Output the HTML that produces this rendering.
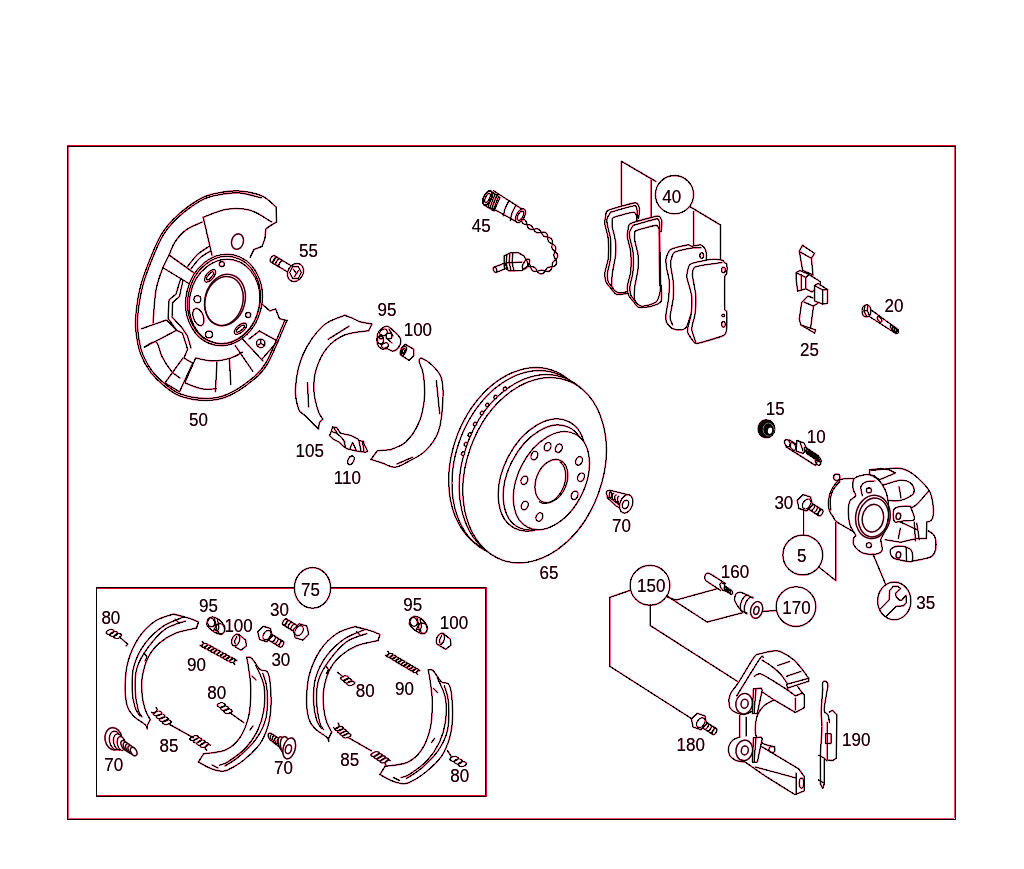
<!DOCTYPE html>
<html><head><meta charset="utf-8"><style>
html,body{margin:0;padding:0;background:#fff;width:1024px;height:869px;overflow:hidden}
svg{display:block}
text{font-family:"Liberation Sans",sans-serif;stroke:none}
.r{color:#e8285a}
.k{color:#000}
</style></head><body>
<svg width="1024" height="869" viewBox="0 0 1024 869">
<defs><g id="art">
<rect x="67" y="145" width="889" height="1" fill="#ee2a5c" stroke="none"/>
<rect x="68" y="147" width="1" height="671" fill="#f98aa6" stroke="none"/>
<rect x="954" y="147" width="1" height="671" fill="#f98aa6" stroke="none"/>
<rect x="68" y="818" width="886" height="1" fill="#f98aa6" stroke="none"/>
<rect x="67" y="146" width="889" height="1" fill="#000" stroke="none"/>
<rect x="67" y="146" width="1" height="674" fill="#000" stroke="none"/>
<rect x="955" y="146" width="1" height="674" fill="#000" stroke="none"/>
<rect x="67" y="819" width="889" height="1" fill="#000" stroke="none"/>
<rect x="97" y="588" width="389" height="1" fill="#ee2a5c" stroke="none"/>
<rect x="486" y="587" width="1" height="210" fill="#ee2a5c" stroke="none"/>
<rect x="97" y="795" width="388" height="1" fill="#ee2a5c" stroke="none"/>
<rect x="96" y="587" width="390" height="1" fill="#000" stroke="none"/>
<rect x="96" y="587" width="1" height="210" fill="#000" stroke="none"/>
<rect x="485" y="587" width="1" height="210" fill="#000" stroke="none"/>
<rect x="96" y="796" width="390" height="1" fill="#000" stroke="none"/>
<ellipse cx="312.5" cy="587.9" rx="18.1" ry="20.3" fill="#fff"/>
<text transform="translate(301.1 596.4) scale(1 1.13)" font-size="17" fill="currentColor" stroke="currentColor" stroke-width="0.25" shape-rendering="auto">75</text>
<path d="M276 207 C273.7 205.2 268.1 198.7 262 196 C255.9 193.3 246.7 191.5 239.4 191 C232.1 190.5 224.5 191.7 218 193 C211.5 194.3 207.2 194.9 200.3 198.8 C193.5 202.6 183.4 209.9 176.9 215.9 C170.4 221.9 165.9 227 161.2 234.7 C156.6 242.4 152.3 253.4 148.9 262 C145.5 270.6 142.8 277.4 140.6 286 C138.4 294.6 136.8 305.9 136 313.6 C135.2 321.3 135.2 325.3 136 332 C136.8 338.7 138.1 347.2 140.6 354 C143.1 360.8 147 367.3 150.8 372.5 C154.7 377.7 158.8 381.5 163.7 385.4 C168.6 389.3 172.9 393.5 180 396 C187.1 398.5 198 400.5 206 400.5 C214 400.5 220.3 399.4 227.9 396.2 C235.5 393 244.7 386.9 251.3 381.5 C257.9 376.1 261.5 374 267.4 364 C273.3 354 283.3 328.6 286.5 321.5"/>
<path d="M261.2 197.8 C257.5 197 246.2 193.4 238.9 192.9 C231.7 192.5 224.3 193.7 217.9 195 C211.5 196.3 207.3 196.9 200.6 200.7 C193.9 204.5 184.1 211.8 177.7 217.7 C171.4 223.7 167 228.7 162.5 236.3 C158 243.8 154 254.7 150.6 263 C147.3 271.4 144.7 278 142.6 286.4 C140.5 294.7 138.8 305.8 138 313.3 C137.2 320.7 137.1 324.6 137.9 331.2 C138.6 337.8 139.8 346.2 142.2 352.8 C144.6 359.4 148.4 365.8 152.1 371 C155.9 376.1 160 379.8 164.7 383.7 C169.5 387.5 173.8 391.6 180.7 394.1 C187.6 396.6 198.3 398.5 206.2 398.5 C214 398.5 220.2 397.4 227.6 394.2 C235 391.1 244.1 385 250.5 379.7 C256.9 374.4 260.4 372.3 266.1 362.5 C271.8 352.7 281.5 327.9 284.6 320.9"/>
<path d="M276 207 L276.6 222 L269.8 226 L265.8 229 L264.9 238.7 L262 246.5 L254 249.4 L250.2 257.3"/>
<path d="M262 304 L269.8 310.9 L275.6 308.9 L279.5 318.7 L287.4 320.6"/>
<path d="M203.2 217.2 C207.1 215.9 218.9 210.5 226.7 209.3 C234.5 208.2 242.7 208.2 250.2 210.3 C257.7 212.4 268.1 220.1 271.7 222"/>
<path d="M203.2 217.2 L212 255.3"/>
<ellipse cx="237.5" cy="241.6" rx="5.9" ry="7.8" transform="rotate(15 237.5 241.6)"/>
<path d="M202.3 222 C199.6 223.3 190.6 226.7 186 230 C181.4 233.3 177.8 237.8 175 242 C172.2 246.2 170.1 252.8 169.1 255"/>
<path d="M162.8 267.6 C161.7 271.3 157.6 280.8 156 290 C154.4 299.2 153.5 317.4 153 322.9"/>
<path d="M144.4 347.1 C146.3 346.2 153.2 340.4 156.1 342 C159 343.6 159.4 351.7 162 356.6 C164.6 361.5 168.5 367.7 171.5 371.3 C174.5 374.9 178.6 376.9 180 378"/>
<path d="M185.4 383 C188.1 384 196.4 387.8 201.5 388.8 C206.6 389.8 213.8 388.8 216.2 388.8"/>
<path d="M196.2 274.5 L169.1 255 L162.8 267.6 L191 284.9"/>
<path d="M141.5 328.8 L166.4 320 L176.6 330.3 L144.4 347.1"/>
<path d="M183 358 L164.9 383 L179.5 391.8 L192 364.7"/>
<path d="M217 361.7 L215.4 391.8"/>
<path d="M229.4 359.5 L230.8 384.5"/>
<path d="M195.7 358 L185.4 381.5"/>
<path d="M235.2 345.6 L252.8 371.3"/>
<path d="M242.5 339 L263 361"/>
<path d="M249.1 339 L259.4 331 L277.7 341.2 L261.6 359.5"/>
<circle cx="260.8" cy="343.4" r="4.2"/>
<path d="M260.8 339.2 L260.8 343.4"/>
<path d="M260.8 343.4 L257.2 345.5"/>
<path d="M260.8 343.4 L264.4 345.5"/>
<path d="M180.6 279.1 L176 294.1 L169.1 299.8 L168 318.3 L176.6 330.3 L182.5 333.2 L187.6 349.3 L184 358 L192.7 363.2"/>
<path d="M183 280.3 L179.5 296.4 L172.6 302.7 L172 317.1 L181.8 327.5 L187.5 336 L191 348"/>
<path d="M195.7 358 C198.6 358.5 207.3 361 213.2 361 C219 361 225.9 359.5 230.8 358 C235.7 356.5 240.6 353.2 242.5 352.2"/>
<path d="M187.5 266.5 C189.1 264.6 193.6 258.3 197 255 C200.4 251.7 206.3 248.2 208.2 246.9"/>
<path d="M191 268.8 C192.5 267 196.7 261 200 258 C203.3 255 208.8 252.2 210.6 251"/>
<ellipse cx="224" cy="300" rx="38" ry="46" transform="rotate(12 224 300)" fill="#fff"/>
<ellipse cx="224" cy="300" rx="36" ry="44" transform="rotate(12 224 300)"/>
<ellipse cx="224.5" cy="301.5" rx="35" ry="42.5" transform="rotate(12 224.5 301.5)"/>
<ellipse cx="225" cy="300" rx="20" ry="26" transform="rotate(15 225 300)"/>
<ellipse cx="224" cy="301" rx="18.8" ry="24.8" transform="rotate(15 224 301)"/>
<circle cx="197.4" cy="299.3" r="3.5"/>
<circle cx="221.8" cy="264.1" r="2.5"/>
<circle cx="248.2" cy="315" r="2.5"/>
<circle cx="209" cy="334.5" r="3.5"/>
<ellipse cx="210.1" cy="275.9" rx="7.5" ry="3.6" transform="rotate(-50 210.1 275.9)"/>
<ellipse cx="210.1" cy="275.9" rx="5" ry="1.8" transform="rotate(-50 210.1 275.9)"/>
<ellipse cx="240.4" cy="328.7" rx="7.5" ry="3.6" transform="rotate(-40 240.4 328.7)"/>
<ellipse cx="240.4" cy="328.7" rx="5" ry="1.8" transform="rotate(-40 240.4 328.7)"/>
<ellipse cx="198.4" cy="317" rx="5" ry="9" transform="rotate(-20 198.4 317)"/>
<text transform="translate(189 426) scale(1 1.13)" font-size="17" fill="currentColor" stroke="currentColor" stroke-width="0.25" shape-rendering="auto">50</text>
<path d="M297.3 269.4 L274.5 255.8 L270.9 262 L293.7 275.6 Z" fill="#fff"/>
<ellipse cx="272.7" cy="258.9" rx="2" ry="3.6" transform="rotate(-149.2 272.7 258.9)" fill="#fff"/>
<path d="M277.4 257.5 A2 3.6 -149.2 0 0 273.7 263.7" transform=""/>
<path d="M280.2 259.2 A2 3.6 -149.2 0 0 276.5 265.4" transform=""/>
<path d="M283 260.9 A2 3.6 -149.2 0 0 279.4 267.1" transform=""/>
<ellipse cx="295.5" cy="272.5" rx="7.6" ry="9.5" transform="rotate(-149.2 295.5 272.5)" fill="#fff"/>
<path d="M301.4 272.5 L298.4 278.4 L292.6 278.4 L289.6 272.5 L292.6 266.6 L298.4 266.6 Z"/>
<path d="M293.5 269.5 L296.5 273.5 L298.5 270.5"/>
<path d="M296.5 273.5 L294.5 276.5"/>
<text transform="translate(299 257.2) scale(1 1.13)" font-size="17" fill="currentColor" stroke="currentColor" stroke-width="0.25" shape-rendering="auto">55</text>
<path d="M344.6 315.3 C341 317.1 329.7 319.4 322.8 326 C315.9 332.6 307.6 344.4 303 354.6 C298.4 364.8 296.2 378.3 295.5 387.4 C294.8 396.5 297.1 404.6 298.7 409.3 C300.3 414 302.8 413.2 305.3 415.8 C307.9 418.4 311.8 422.4 314 424.6 C316.2 426.8 317.7 428.3 318.4 429"/>
<path d="M344.6 315.3 L353.4 318.6 L360 321.9 L372 324 L368.7 330.6"/>
<path d="M368.7 330.6 C364.7 331.3 351.6 332.1 344.6 335 C337.7 337.9 331.8 342.2 327 348 C322.2 353.8 318.2 362.7 316 370 C313.8 377.3 313.6 384.9 314 391.8 C314.4 398.7 316.9 407 318.4 411.5 C319.9 416 322.1 417.8 322.8 419"/>
<path d="M322.8 419 L319.5 422.4 L318.4 429"/>
<path d="M328.2 339.3 L349 326.2"/>
<path d="M307.5 383 L308.6 407"/>
<path d="M421 358 C422.5 358.9 426.7 360.3 430 363.4 C433.3 366.5 438.6 370.7 440.8 376.5 C443 382.3 443.4 388.9 443 398 C442.6 407.1 441.5 422.2 438.6 431 C435.7 439.8 430.6 445.7 425.5 450.8 C420.4 455.9 413.1 459 408 461.7 C402.9 464.4 399.4 467 395 467.2 C390.6 467.4 384 463.5 381.8 462.8"/>
<path d="M381.8 462.8 L370.9 459.5 L377.4 450.8 L390.5 449.7"/>
<path d="M390.5 449.7 C393.1 448.4 401.1 446.6 405.8 442 C410.6 437.4 415.9 429.7 419 422.4 C422.1 415.1 423.7 406.3 424.4 398.3 C425.1 390.3 424.2 380.5 423.3 374.3 C422.4 368.1 419.4 363.9 419 361.2 C418.6 358.5 420.7 358.5 421 358"/>
<path d="M436.4 380.9 L439.7 413.6"/>
<path d="M397 464 L412.4 457.3"/>
<path d="M377.5 334.4 C378.1 331.9 379.4 330.4 381 329 C382.6 327.6 385.1 325.9 387.3 326.3 C389.5 326.7 392 329.4 394.2 331.5 C396.4 333.6 399.7 336.4 400.5 339 C401.3 341.6 400.1 345 398.8 347 C397.6 349 394.9 350.8 393 351.1 C391.1 351.4 389.2 349.2 387.3 348.8 C385.4 348.4 383.1 349.6 381.5 348.8 C379.9 348 378.2 346.6 377.5 344.2 C376.8 341.8 376.9 336.9 377.5 334.4 Z" fill="#fff"/>
<ellipse cx="383.5" cy="332.5" rx="4" ry="3.2" transform="rotate(-30 383.5 332.5)"/>
<ellipse cx="380.5" cy="340" rx="3" ry="4"/>
<ellipse cx="385" cy="345.5" rx="3.5" ry="2.5" transform="rotate(-20 385 345.5)"/>
<ellipse cx="389" cy="336" rx="3" ry="3"/>
<path d="M386 338 L392 343"/>
<path d="M389 329 L393 336"/>
<ellipse cx="381" cy="337" rx="1.5" ry="2.2"/>
<path d="M401 348.8 L405.1 344.2 L413.7 349.3 L413.7 355.7 L409.1 360.3 L401 355.1 Z" fill="#fff"/>
<ellipse cx="403.4" cy="350.9" rx="2.6" ry="4.8" transform="rotate(25 403.4 350.9)"/>
<ellipse cx="403.6" cy="350.9" rx="1.2" ry="2.6" transform="rotate(25 403.6 350.9)"/>
<path d="M332.5 426.9 L336.5 427.5 L340.5 433.2 L350.9 435.5 L357.8 439 L359 440.7 L363.5 441.3 L364.1 444.2 L367.6 451.1 L365.3 452.2 L357.2 451.1 L346.9 448.8 L342.3 445.3 L339.4 442.4 L333.1 439 L329.6 435.5 L331.3 431.5 Z"/>
<path d="M331.3 431.5 L336.5 433.2 L341 437 L345 442"/>
<path d="M334 428 L337 433"/>
<path d="M344 441 L345.5 447.5"/>
<path d="M350 448.5 L352.5 442.5 L356 449.5"/>
<path d="M359 441 L361 451"/>
<path d="M362.5 441.5 L364 451.5"/>
<ellipse cx="350.9" cy="460.3" rx="2.8" ry="4.6" transform="rotate(25 350.9 460.3)"/>
<text transform="translate(377.5 316.3) scale(1 1.13)" font-size="17" fill="currentColor" stroke="currentColor" stroke-width="0.25" shape-rendering="auto">95</text>
<text transform="translate(403.7 336) scale(1 1.13)" font-size="17" fill="currentColor" stroke="currentColor" stroke-width="0.25" shape-rendering="auto">100</text>
<text transform="translate(295.6 457.2) scale(1 1.13)" font-size="17" fill="currentColor" stroke="currentColor" stroke-width="0.25" shape-rendering="auto">105</text>
<text transform="translate(333.8 483.5) scale(1 1.13)" font-size="17" fill="currentColor" stroke="currentColor" stroke-width="0.25" shape-rendering="auto">110</text>
<text transform="translate(471.7 231.7) scale(1 1.13)" font-size="17" fill="currentColor" stroke="currentColor" stroke-width="0.25" shape-rendering="auto">45</text>
<path d="M493.8 190.9 L524.9 211"/>
<path d="M486.9 205.3 L518 222.6"/>
<path d="M490 190.5 L500 197.5 L494 211 L484 205 Z" fill="#fff"/>
<path d="M489.5 191 L484.5 204.5"/>
<path d="M491.3 192.1 L486.3 205.6"/>
<path d="M493.1 193.2 L488.1 206.7"/>
<path d="M494.9 194.3 L489.9 207.8"/>
<path d="M496.7 195.4 L491.7 208.9"/>
<path d="M498.5 196.5 L493.5 210"/>
<ellipse cx="487.5" cy="198" rx="3.8" ry="7.8" transform="rotate(25 487.5 198)" fill="#fff" stroke-width="1.6"/>
<ellipse cx="487.5" cy="198" rx="2" ry="5" transform="rotate(25 487.5 198)"/>
<path d="M497.5 195 C496.8 196.3 494.4 200.5 493.5 203 C492.6 205.5 492.2 208.8 492 210"/>
<path d="M509 200.8 C508.3 202.1 505.9 206.3 505 208.8 C504.1 211.3 503.8 214.6 503.5 215.8"/>
<path d="M515.9 205.4 C515.2 206.7 512.8 210.9 511.9 213.4 C511 215.9 510.6 219.2 510.4 220.4"/>
<ellipse cx="520.5" cy="215.7" rx="4" ry="7.5" transform="rotate(30 520.5 215.7)" fill="#fff"/>
<ellipse cx="520.5" cy="215.7" rx="2.5" ry="5" transform="rotate(30 520.5 215.7)"/>
<path d="M521 219 L521.1 219.6 L521.3 220.3 L521.5 221.1 L521.8 221.9 L522.3 222.7 L522.9 223.3 L523.7 223.9 L524.8 224.2 L526 224.4 L527.2 224.6 L528.5 224.7 L529.6 224.9 L530.6 225.2 L531.4 225.7 L532 226.4 L532.5 227.2 L533 228 L533.4 229 L533.9 229.9 L534.5 230.8 L535.2 231.6 L536 232.2 L536.8 232.6 L537.7 232.8 L538.6 232.8 L539.6 232.7 L540.6 232.4 L541.6 232.2 L542.7 232 L543.7 232 L544.7 232.2 L545.5 232.6 L546.2 233.2 L546.8 233.9 L547.2 234.7 L547.5 235.7 L547.6 236.7 L547.7 237.7 L547.8 238.7 L547.9 239.6 L548.1 240.4 L548.5 241.2 L548.9 241.8 L549.5 242.3 L550.2 242.8 L551.1 243.3 L552 243.7 L552.9 244.2 L553.8 244.8 L554.6 245.4 L555.2 246.2 L555.7 247.1 L555.8 248.1 L555.8 249.1 L555.5 250.2 L555.1 251.3 L554.7 252.4 L554.3 253.4 L554 254.4 L553.9 255.2 L553.9 256 L554.2 256.8 L554.5 257.5 L554.9 258.2 L555.3 258.9 L555.7 259.6 L556.1 260.4 L556.4 261.2 L556.5 262 L556.6 262.8 L556.5 263.5 L556.2 264.2 L555.8 264.9 L555.3 265.4 L554.7 265.9 L554 266.2 L553.2 266.5 L552.4 266.7 L551.6 266.8 L550.8 266.9 L550.1 266.9 L549.3 267.1 L548.6 267.2 L547.9 267.5 L547.3 268 L546.7 268.6 L546.2 269.3 L545.7 270.1 L545.2 271 L544.6 271.8 L543.9 272.6 L543.2 273.3 L542.3 273.7 L541.4 273.9 L540.5 273.9 L539.6 273.6 L538.8 273.1 L538 272.4 L537.4 271.5 L536.9 270.5 L536.4 269.5 L535.8 268.6 L535.2 267.9 L534.4 267.3 L533.5 267 L532.5 266.8 L531.4 266.7 L530.3 266.7 L529.4 266.6 L528.5 266.6 L527.9 266.5 L527.4 266.5"/>
<path d="M521 219 L521.6 219.1 L522.4 219.2 L523.2 219.3 L524 219.6 L524.8 220 L525.5 220.6 L526 221.4 L526.5 222.4 L526.8 223.5 L527.1 224.8 L527.4 226 L527.8 227.1 L528.4 228.1 L529.2 228.8 L530.1 229.2 L531.1 229.4 L532.1 229.5 L533.2 229.4 L534.3 229.2 L535.3 229 L536.3 228.8 L537.2 228.8 L538.1 229 L538.9 229.5 L539.6 230.1 L540.3 230.8 L540.9 231.7 L541.4 232.6 L541.9 233.5 L542.4 234.3 L542.8 235 L543.3 235.6 L543.8 236.1 L544.5 236.4 L545.3 236.7 L546.2 236.9 L547.2 237.1 L548.2 237.3 L549.2 237.5 L550.1 237.9 L550.9 238.4 L551.6 239 L552 239.8 L552.3 240.6 L552.4 241.5 L552.4 242.5 L552.3 243.6 L552.1 244.6 L552 245.6 L551.8 246.6 L551.9 247.5 L552.1 248.4 L552.5 249.2 L553.2 249.9 L554 250.7 L554.9 251.4 L555.8 252.2 L556.5 253 L557.2 253.8 L557.6 254.7 L557.7 255.7 L557.6 256.6 L557.3 257.4 L556.9 258.2 L556.4 259 L555.8 259.6 L555.2 260.2 L554.6 260.7 L554 261.2 L553.6 261.6 L553.2 262 L552.8 262.5 L552.6 263 L552.4 263.6 L552.3 264.2 L552.3 264.8 L552.2 265.6 L552.1 266.3 L551.9 267.1 L551.8 267.9 L551.5 268.7 L551.1 269.5 L550.6 270.2 L549.9 270.7 L549.1 271.2 L548.2 271.4 L547.3 271.4 L546.2 271.3 L545.2 271.1 L544.2 270.8 L543.3 270.5 L542.5 270.3 L541.8 270.1 L541.1 270.1 L540.5 270.2 L540 270.4 L539.4 270.6 L538.5 270.9 L537.6 271.1 L536.4 271.3 L535.3 271.4 L534.1 271.3 L533.1 271 L532.3 270.4 L531.6 269.6 L531.1 268.6 L530.7 267.6 L530.4 266.5 L530.1 265.6 L529.8 264.8 L529.5 264.2 L529.2 263.7"/>
<path d="M504 256 L510 253 L518 252.5 L524 256 L527.5 262 L528 266 L522 270.5 L509 271 L504 267 Z" fill="#fff"/>
<path d="M507 255 L506 263 L508 270"/>
<path d="M510 254 L509 262 L511 270.5"/>
<path d="M513 253 L512 262 L514 271"/>
<path d="M506 263 L522 262"/>
<ellipse cx="526" cy="264" rx="2.5" ry="5.5" transform="rotate(30 526 264)"/>
<path d="M494.5 267 L505 263 L507 268 L496.5 272.3"/>
<ellipse cx="495" cy="269.7" rx="1.6" ry="2.7" transform="rotate(-20 495 269.7)" fill="#fff"/>
<circle cx="674.5" cy="194.7" r="19.1" fill="#fff"/>
<text transform="translate(662.3 202.8) scale(1 1.13)" font-size="17" fill="currentColor" stroke="currentColor" stroke-width="0.25" shape-rendering="auto">40</text>
<path d="M621.4 205.2 L621.4 161.3 L656 181.5"/>
<path d="M651 219.4 L651 180"/>
<path d="M690.5 207 L720.5 225 L720.5 260"/>
<path d="M693.6 211.5 L693.6 247.6"/>
<path d="M608.2 210.2 C611.1 208.9 631.6 203.2 634.7 202.9 C637.8 202.6 638.9 206.1 639.3 207.6 C639.7 209.1 638.9 216.8 638.6 218.1 C638.3 219.4 636.8 215.6 636.7 220.8 C636.6 226 637 265.1 637.2 270.2 C637.4 275.3 638.6 270.4 638.7 272.2 C638.8 274 639.6 286.1 638.6 288.2 C637.6 290.3 630.4 292.6 628.2 293.2 C626 293.8 617.9 294.7 616.2 294.2 C614.5 293.7 611.8 289.4 610.8 288.2 C609.8 287 606.8 283.8 606.2 282.3 C605.6 280.8 604.7 275.4 604.9 273 C605.1 270.6 607.9 261.9 608.2 258.5 C608.5 255.1 608.5 242.1 608.2 238.7 C607.9 235.3 605.2 226.3 604.9 224.1 C604.6 221.8 605.3 217.6 605.6 216.2 C605.9 214.8 605.3 211.5 608.2 210.2 Z" fill="#fff"/>
<path d="M610.7 212.2 C613.1 211.5 632.1 205.7 634.7 205.7 C637.4 205.7 637 210.7 637.2 212.2 C637.4 213.7 636.8 219.9 636.7 220.8"/>
<path d="M610.7 212.2 C610.4 212.8 607.6 217 607.2 218.2 C606.9 219.4 606.9 222.1 607.2 224.2 C607.5 226.2 610.2 235.3 610.5 238.7 C610.8 242.1 610.8 255.1 610.5 258.5 C610.2 261.9 607.7 270.6 607.5 273 C607.3 275.4 607.8 280.7 608.4 282.2 C609 283.7 612.7 287.6 613.2 288.2"/>
<path d="M613.5 217.5 C615.6 216.6 631 212.3 633.3 212.2 C635.6 212.1 636.2 214.6 636.6 216.2 C637 217.8 637.2 222.3 637.3 228.1 C637.4 233.9 638.3 268.4 638 274.4 C637.7 280.3 635.5 286 634.6 287.6 C633.7 289.2 631 290.4 629.4 290.9 C627.8 291.4 620.5 293.2 618.8 292.9 C617.1 292.6 612.9 289.5 612.2 287.6 C611.5 285.8 611.9 277.6 612.2 274.4 C612.5 271.2 615.2 259.1 615.5 255.8 C615.8 252.5 615.8 244.2 615.5 241.3 C615.2 238.4 612.5 228.8 612.2 226.8 C611.9 224.8 612.1 222.4 612.2 221.5 C612.3 220.6 611.4 218.4 613.5 217.5 Z"/>
<path d="M630.7 223.4 C633.6 222.1 654.1 216.4 657.2 216.1 C660.3 215.8 661.4 219.3 661.8 220.8 C662.2 222.3 661.4 230 661.1 231.3 C660.8 232.6 659.3 228.8 659.2 234 C659.1 239.2 659.5 278.3 659.7 283.4 C659.9 288.5 661.1 283.6 661.2 285.4 C661.3 287.2 662.1 299.3 661.1 301.4 C660.1 303.5 652.9 305.8 650.7 306.4 C648.5 307 640.4 307.9 638.7 307.4 C637 306.9 634.3 302.6 633.3 301.4 C632.3 300.2 629.3 297 628.7 295.5 C628.1 294 627.2 288.6 627.4 286.2 C627.6 283.8 630.4 275.1 630.7 271.7 C631 268.3 631 255.3 630.7 251.9 C630.4 248.5 627.7 239.6 627.4 237.3 C627.1 235.1 627.8 230.8 628.1 229.4 C628.4 228 627.8 224.7 630.7 223.4 Z" fill="#fff"/>
<path d="M633.2 225.4 C635.6 224.8 654.6 218.9 657.2 218.9 C659.9 218.9 659.5 223.9 659.7 225.4 C659.9 226.9 659.2 233.1 659.2 234"/>
<path d="M633.2 225.4 C632.9 226 630.1 230.2 629.7 231.4 C629.4 232.6 629.4 235.3 629.7 237.4 C630 239.5 632.7 248.5 633 251.9 C633.3 255.3 633.3 268.3 633 271.7 C632.7 275.1 630.2 283.8 630 286.2 C629.8 288.6 630.3 293.9 630.9 295.4 C631.5 296.9 635.2 300.8 635.7 301.4"/>
<path d="M636 230.7 C638.1 229.8 653.5 225.5 655.8 225.4 C658.1 225.3 658.7 227.8 659.1 229.4 C659.5 231 659.7 235.5 659.8 241.3 C659.9 247.1 660.8 281.7 660.5 287.6 C660.2 293.6 658 299.2 657.1 300.8 C656.2 302.4 653.5 303.6 651.9 304.1 C650.3 304.6 643 306.4 641.3 306.1 C639.6 305.8 635.4 302.7 634.7 300.8 C634 298.9 634.4 290.8 634.7 287.6 C635 284.4 637.7 272.3 638 269 C638.3 265.7 638.3 257.4 638 254.5 C637.7 251.6 635 242 634.7 240 C634.4 238 634.6 235.6 634.7 234.7 C634.8 233.8 633.9 231.6 636 230.7 Z"/>
<path d="M705.6 262 C707.5 254.4 706.1 251.9 705.6 250.2 C705.1 248.5 702.4 245.3 701 244.9 C699.6 244.5 693 246.2 691.7 246.2 C690.4 246.2 689.9 244.6 687.8 244.9 C685.7 245.2 672.8 248.1 670.6 249.5 C668.4 250.9 666.4 256.9 666 258.8 C665.6 260.7 666.3 265.8 666.6 268 C666.9 270.2 669.1 278.2 669.3 281.3 C669.5 284.4 668.9 295.2 668.6 298.5 C668.3 301.8 666.2 311.9 666 314.3 C665.8 316.7 665.9 320.8 666.6 322.3 C667.3 323.8 671.2 328.5 673.2 328.9 C675.2 329.3 683.8 332.7 687 326 C690.2 319.3 703.7 269.6 705.6 262 Z" fill="#fff"/>
<path d="M701 247.6 C699.9 247.7 693 247.7 690.4 248.2 C687.8 248.7 676.4 251 674.5 252.2 C672.6 253.4 671.4 258.4 671 260 C670.6 261.6 670.8 265.9 671 268 C671.2 270.1 673 278.2 673.2 281.3 C673.4 284.4 673.5 294.9 673.2 298.5 C672.9 302.1 670.1 314.4 670 317 C669.9 319.6 672.3 324.1 672.6 324.9"/>
<ellipse cx="701.7" cy="255.5" rx="1.8" ry="2.8"/>
<path d="M690.4 264.1 C692.7 262.7 707 259.9 710.2 259.5 C713.4 259.1 720.6 259.8 722.1 260.1 C723.6 260.4 724.3 262.4 724.8 262.8 C725.3 263.2 726.6 263.1 726.8 264.1 C727 265.2 727 272 726.8 273.3 C726.6 274.6 725 273.7 724.8 277.3 C724.6 280.9 724.6 305.6 724.8 309 C725 312.4 726.6 309.8 726.8 311.7 C727 313.6 727.1 325.2 726.8 327.6 C726.5 330 726.5 333.9 723.5 335.5 C720.5 337.1 700 342.9 697 343.4 C694 343.9 693.9 341.9 693 340.8 C692.1 339.8 688.3 334.2 687.8 332.9 C687.3 331.6 687.5 329.5 687.8 327.6 C688.1 325.7 690.7 317.5 691.1 314.3 C691.5 311.1 692.1 299.4 691.7 295.8 C691.3 292.2 687.6 280.9 687.1 278.6 C686.6 276.4 686.8 274.8 687.1 273.3 C687.4 271.9 688.1 265.5 690.4 264.1 Z" fill="#fff"/>
<path d="M722 262.5 C719.4 262.9 698.7 265.5 695.7 266.7 C692.7 267.9 692.4 271.9 692.4 274.7 C692.4 277.5 695.4 290.5 695.7 294.5 C696 298.5 695.4 310.9 695 314.3 C694.6 317.7 691.6 326.1 691.7 328.9 C691.8 331.7 695.3 340.8 695.7 342.1"/>
<ellipse cx="723.5" cy="270" rx="1.8" ry="2.8"/>
<ellipse cx="723.5" cy="324.3" rx="1.8" ry="2.8"/>
<circle cx="723.2" cy="315.5" r="1.3"/>
<text transform="translate(800 356.3) scale(1 1.13)" font-size="17" fill="currentColor" stroke="currentColor" stroke-width="0.25" shape-rendering="auto">25</text>
<path d="M802.6 245.3 L814.6 253.4 L811.4 258.2 L813 275.1"/>
<path d="M802.6 245.3 L799.3 251 L802.6 270.3 L813 275.1"/>
<path d="M800 252 L811.4 258.2"/>
<path d="M796 272.7 L805.8 277.5 L805.8 288.8 L797.7 291.2 L796 278.3 Z" fill="#fff"/>
<path d="M796 272.7 L800 270.5 L809 274.5 L805.8 277.5"/>
<path d="M809 274.5 L820.3 281.6 L820.3 287"/>
<path d="M814.6 285.6 L818 283.5 L827.5 289.6 L827.5 303.3 L822.7 304.1 L814.6 300.9 Z" fill="#fff"/>
<path d="M814.6 285.6 L822.7 290 L827.5 289.6"/>
<path d="M822.7 290 L822.7 304.1"/>
<path d="M801.3 274.5 L801.3 289.5"/>
<path d="M805.8 288.8 L812 292 L814.6 290"/>
<path d="M813 298 L808 296 L801.7 302.5 L799.3 319.4 L801 325 L814.6 333.1 L815.6 330 L810.6 328.3 L813.5 306 L817.9 303.3"/>
<path d="M801 325 L810.6 328.3"/>
<path d="M804 302 L813 306"/>
<text transform="translate(884.5 312.4) scale(1 1.13)" font-size="17" fill="currentColor" stroke="currentColor" stroke-width="0.25" shape-rendering="auto">20</text>
<path d="M870.7 309.6 L898.2 329.7 L896 333.7 L868 315.7 Z" fill="#fff"/>
<ellipse cx="879.6" cy="319.3" rx="1.6" ry="3.2" transform="rotate(-35 879.6 319.3)"/>
<ellipse cx="892.5" cy="327.8" rx="1.5" ry="2.9" transform="rotate(-35 892.5 327.8)"/>
<ellipse cx="894.4" cy="329.2" rx="1.5" ry="2.9" transform="rotate(-35 894.4 329.2)"/>
<ellipse cx="896.3" cy="330.6" rx="1.5" ry="2.9" transform="rotate(-35 896.3 330.6)"/>
<path d="M862.5 308 C862.9 306.8 863.6 306 864.5 305.5 C865.4 305 867 304.7 868 305.2 C869 305.7 870.3 307 870.7 308.5 C871.1 310 871 312.6 870.5 314 C870 315.4 869 316.2 868 316.6 C867 317 865.2 317 864.2 316.4 C863.2 315.8 862.5 314.4 862.2 313 C861.9 311.6 862.1 309.2 862.5 308 Z" fill="#fff"/>
<path d="M865 306 L863.8 311 L866.5 316"/>
<path d="M868 305.5 L867.2 310.5 L869.5 315.5"/>
<path d="M863.8 311 L867.2 310.5"/>
<text transform="translate(539.5 579) scale(1 1.13)" font-size="17" fill="currentColor" stroke="currentColor" stroke-width="0.25" shape-rendering="auto">65</text>
<path d="M493.4 551.7 L489.2 550.5 L485.2 549 L481.2 547.1 L477.5 544.8 L473.9 542.2 L470.5 539.3 L467.3 536 L464.3 532.4 L461.6 528.6 L459.1 524.4 L456.9 520 L454.9 515.4 L453.1 510.5 L451.7 505.4 L450.5 500.1 L449.6 494.7 L449.1 489.1 L448.8 483.4 L448.8 477.7 L449 471.8 L449.6 465.9 L450.5 460 L451.7 454 L453.1 448.1 L454.8 442.3 L456.8 436.5 L459 430.8 L461.5 425.3 L464.3 419.8 L467.2 414.6 L470.4 409.5 L473.8 404.7 L477.4 400 L481.1 395.7 L485 391.5 L489.1 387.7 L493.3 384.2 L497.6 380.9 L502 378 L506.4 375.5 L511 373.2 L515.5 371.4 L520.1 369.9 L524.7 368.7 L529.3 368 L533.8 367.6 L538.3 367.6 L542.7 368 L547 368.7 L551.2 369.9 L555.3 371.4 L559.2 373.2 L563 375.5 L566.6 378 L570 380.9 L573.2 384.2 L576.2 387.7 L579 391.6 L581.5 395.7 L583.8 400.1"/>
<path d="M491 553 L487.2 551.4 L483.5 549.5 L479.9 547.3 L476.5 544.7 L473.3 541.9 L470.3 538.7 L467.5 535.3 L464.9 531.6 L462.5 527.6 L460.3 523.4 L458.4 519 L456.7 514.4 L455.2 509.6 L454.1 504.6 L453.1 499.5 L452.5 494.2 L452.1 488.8 L452 483.3 L452.1 477.7 L452.5 472.1 L453.2 466.5 L454.1 460.8 L455.3 455.2 L456.8 449.5 L458.5 444 L460.4 438.5 L462.6 433.1 L465 427.8 L467.6 422.6 L470.5 417.6 L473.5 412.8 L476.7 408.1 L480.1 403.7 L483.7 399.4 L487.4 395.4 L491.2 391.7 L495.2 388.2 L499.3 385.1 L503.4 382.2 L507.7 379.6 L512 377.3 L516.3 375.3 L520.7 373.7 L525 372.4 L529.4 371.5 L533.8 370.8 L538.1 370.6 L542.3 370.6 L546.5 371.1 L550.6 371.8 L554.6 372.9 L558.5 374.4 L562.3 376.1 L565.9 378.2 L569.3 380.7 L572.6 383.4 L575.7 386.4 L578.6 389.7 L581.4 393.3 L583.8 397.1"/>
<ellipse cx="531" cy="467.2" rx="67.9" ry="95.5" transform="rotate(20 531 467.2)" fill="#fff"/>
<ellipse cx="534.6" cy="470.2" rx="67.9" ry="95.5" transform="rotate(20 534.6 470.2)" fill="#fff"/>
<ellipse cx="463" cy="453.6" rx="1.5" ry="1.9" transform="rotate(30 463 453.6)" fill="#fff"/>
<ellipse cx="465.7" cy="444.2" rx="1.5" ry="1.9" transform="rotate(30 465.7 444.2)" fill="#fff"/>
<ellipse cx="469.7" cy="434.7" rx="1.5" ry="1.9" transform="rotate(30 469.7 434.7)" fill="#fff"/>
<ellipse cx="475" cy="424" rx="1.5" ry="1.9" transform="rotate(30 475 424)" fill="#fff"/>
<ellipse cx="481.9" cy="413" rx="1.5" ry="1.9" transform="rotate(30 481.9 413)" fill="#fff"/>
<ellipse cx="487.3" cy="405" rx="1.5" ry="1.9" transform="rotate(30 487.3 405)" fill="#fff"/>
<ellipse cx="495.4" cy="397" rx="1.5" ry="1.9" transform="rotate(30 495.4 397)" fill="#fff"/>
<ellipse cx="504.9" cy="388.8" rx="1.5" ry="1.9" transform="rotate(30 504.9 388.8)" fill="#fff"/>
<ellipse cx="541.8" cy="475" rx="38.2" ry="59.8" transform="rotate(27 541.8 475)" fill="#fff"/>
<ellipse cx="544" cy="477.5" rx="35.8" ry="56" transform="rotate(27 544 477.5)"/>
<ellipse cx="551.4" cy="480.7" rx="33.4" ry="52.3" transform="rotate(27 551.4 480.7)" fill="#fff"/>
<ellipse cx="551.4" cy="481.1" rx="15.2" ry="22.6" transform="rotate(22 551.4 481.1)"/>
<path d="M560.1 462 L560.7 462.4 L561.3 463 L561.8 463.6 L562.4 464.2 L562.9 464.9 L563.3 465.6 L563.7 466.4 L564.1 467.2 L564.5 468.1 L564.8 469 L565 469.9 L565.3 470.8 L565.4 471.8 L565.6 472.8 L565.7 473.8 L565.7 474.8 L565.7 475.9 L565.7 477 L565.6 478.1 L565.5 479.2 L565.4 480.3 L565.2 481.4 L564.9 482.5 L564.6 483.6 L564.3 484.7 L564 485.8 L563.6 486.8 L563.1 487.9 L562.7 489 L562.2 490 L561.6 491 L561.1 492 L560.5 492.9 L559.8 493.9 L559.2 494.8 L558.5 495.6 L557.8 496.4 L557.1 497.2 L556.3 498 L555.5 498.7 L554.8 499.3 L554 500 L553.2 500.5 L552.3 501 L551.5 501.5 L550.7 501.9 L549.9 502.3 L549 502.6 L548.2 502.8 L547.3 503 L546.5 503.2 L545.7 503.3 L544.9 503.3 L544.1 503.3 L543.3 503.2 L542.5 503.1 L541.8 502.9 L541 502.6 L540.3 502.3 L539.6 502"/>
<ellipse cx="547.6" cy="446.7" rx="3.2" ry="4.4" transform="rotate(25 547.6 446.7)"/>
<ellipse cx="558.8" cy="448.2" rx="3.2" ry="4.4" transform="rotate(25 558.8 448.2)"/>
<ellipse cx="579" cy="460.9" rx="3.2" ry="4.4" transform="rotate(25 579 460.9)"/>
<ellipse cx="581" cy="477.3" rx="3.2" ry="4.4" transform="rotate(25 581 477.3)"/>
<ellipse cx="574.6" cy="495.3" rx="3.2" ry="4.4" transform="rotate(25 574.6 495.3)"/>
<ellipse cx="539.4" cy="517" rx="3.2" ry="4.4" transform="rotate(25 539.4 517)"/>
<ellipse cx="524.7" cy="505.5" rx="3.2" ry="4.4" transform="rotate(25 524.7 505.5)"/>
<ellipse cx="524.4" cy="480.3" rx="3.2" ry="4.4" transform="rotate(25 524.4 480.3)"/>
<ellipse cx="534.4" cy="455.6" rx="3.2" ry="4.4" transform="rotate(25 534.4 455.6)"/>
<text transform="translate(612 531.7) scale(1 1.13)" font-size="17" fill="currentColor" stroke="currentColor" stroke-width="0.25" shape-rendering="auto">70</text>
<path d="M609.6 490.3 L626.2 494.2 L620 508 L616 505.9 L607.2 497.6 Z" fill="#fff"/>
<ellipse cx="609.2" cy="494.2" rx="2.5" ry="3.8" transform="rotate(-20 609.2 494.2)" fill="#fff"/>
<path d="M614.5 499.6 L614.3 499.7 L614.2 499.7 L614.1 499.8 L613.9 499.9 L613.8 499.9 L613.6 499.9 L613.5 500 L613.3 500 L613.2 500 L613 499.9 L612.8 499.9 L612.7 499.8 L612.5 499.8 L612.3 499.7 L612.1 499.6 L612 499.5 L611.8 499.4 L611.6 499.3 L611.5 499.2 L611.3 499 L611.1 498.9 L611 498.7 L610.8 498.5 L610.7 498.3 L610.6 498.1 L610.4 497.9 L610.3 497.7 L610.2 497.5 L610.1 497.3 L609.9 497.1 L609.8 496.9 L609.8 496.6 L609.7 496.4 L609.6 496.2 L609.5 496 L609.5 495.7 L609.4 495.5 L609.4 495.3 L609.4 495 L609.4 494.8 L609.3 494.6 L609.4 494.4 L609.4 494.2 L609.4 494 L609.4 493.8 L609.5 493.6 L609.5 493.4 L609.6 493.3 L609.7 493.1 L609.7 492.9 L609.8 492.8 L609.9 492.7 L610 492.5 L610.1 492.4 L610.3 492.3 L610.4 492.3 L610.5 492.2 L610.7 492.1 L610.8 492.1 L611 492.1"/>
<path d="M617.6 502.1 L617.5 502.2 L617.4 502.3 L617.2 502.4 L617.1 502.4 L616.9 502.4 L616.8 502.5 L616.6 502.5 L616.5 502.5 L616.3 502.5 L616.1 502.4 L616 502.4 L615.8 502.3 L615.6 502.2 L615.4 502.1 L615.2 502 L615.1 501.9 L614.9 501.8 L614.7 501.6 L614.5 501.5 L614.3 501.3 L614.2 501.1 L614 500.9 L613.8 500.7 L613.7 500.5 L613.5 500.3 L613.4 500.1 L613.2 499.8 L613.1 499.6 L613 499.3 L612.8 499.1 L612.7 498.8 L612.6 498.6 L612.5 498.3 L612.4 498.1 L612.4 497.8 L612.3 497.5 L612.2 497.3 L612.2 497 L612.1 496.8 L612.1 496.5 L612.1 496.3 L612.1 496 L612.1 495.8 L612.1 495.6 L612.1 495.4 L612.2 495.2 L612.2 495 L612.3 494.8 L612.3 494.6 L612.4 494.4 L612.5 494.3 L612.6 494.1 L612.7 494 L612.8 493.9 L612.9 493.8 L613 493.7 L613.2 493.6 L613.3 493.6 L613.5 493.6 L613.6 493.5"/>
<path d="M620.8 504.6 L620.6 504.7 L620.5 504.8 L620.4 504.9 L620.2 504.9 L620.1 505 L619.9 505 L619.8 505 L619.6 505 L619.4 505 L619.3 504.9 L619.1 504.9 L618.9 504.8 L618.7 504.7 L618.5 504.6 L618.3 504.5 L618.1 504.3 L618 504.2 L617.8 504 L617.6 503.8 L617.4 503.6 L617.2 503.4 L617 503.2 L616.8 502.9 L616.7 502.7 L616.5 502.5 L616.3 502.2 L616.2 501.9 L616 501.7 L615.9 501.4 L615.7 501.1 L615.6 500.8 L615.5 500.5 L615.4 500.2 L615.3 499.9 L615.2 499.6 L615.1 499.4 L615 499.1 L615 498.8 L614.9 498.5 L614.9 498.2 L614.8 498 L614.8 497.7 L614.8 497.4 L614.8 497.2 L614.8 497 L614.9 496.7 L614.9 496.5 L614.9 496.3 L615 496.1 L615.1 495.9 L615.1 495.8 L615.2 495.6 L615.3 495.5 L615.4 495.4 L615.6 495.3 L615.7 495.2 L615.8 495.1 L616 495.1 L616.1 495 L616.3 495"/>
<path d="M623.9 507.2 L623.8 507.3 L623.7 507.4 L623.5 507.4 L623.4 507.5 L623.2 507.5 L623.1 507.5 L622.9 507.5 L622.8 507.5 L622.6 507.5 L622.4 507.4 L622.2 507.4 L622 507.3 L621.8 507.1 L621.6 507 L621.4 506.9 L621.2 506.7 L621 506.5 L620.8 506.3 L620.6 506.1 L620.4 505.9 L620.2 505.7 L620 505.4 L619.8 505.2 L619.7 504.9 L619.5 504.6 L619.3 504.3 L619.1 504 L619 503.7 L618.8 503.4 L618.6 503.1 L618.5 502.8 L618.4 502.5 L618.2 502.1 L618.1 501.8 L618 501.5 L617.9 501.2 L617.8 500.9 L617.8 500.5 L617.7 500.2 L617.6 499.9 L617.6 499.6 L617.6 499.3 L617.5 499.1 L617.5 498.8 L617.5 498.5 L617.6 498.3 L617.6 498.1 L617.6 497.8 L617.7 497.6 L617.7 497.4 L617.8 497.3 L617.9 497.1 L618 497 L618.1 496.8 L618.2 496.7 L618.3 496.6 L618.5 496.6 L618.6 496.5 L618.8 496.5 L618.9 496.5"/>
<ellipse cx="626.2" cy="503.9" rx="6.2" ry="9.5" transform="rotate(20 626.2 503.9)" fill="#fff"/>
<ellipse cx="625.5" cy="504.4" rx="3" ry="4.3" transform="rotate(20 625.5 504.4)"/>
<text transform="translate(765.8 415.3) scale(1 1.13)" font-size="17" fill="currentColor" stroke="currentColor" stroke-width="0.25" shape-rendering="auto">15</text>
<text transform="translate(806.7 443) scale(1 1.13)" font-size="17" fill="currentColor" stroke="currentColor" stroke-width="0.25" shape-rendering="auto">10</text>
<ellipse cx="766.4" cy="428.8" rx="8.4" ry="9" fill="#111"/>
<ellipse cx="768.5" cy="429.5" rx="5.5" ry="6.5" stroke="#fff" stroke-width="0.8"/>
<ellipse cx="770" cy="430.7" rx="3" ry="4" transform="rotate(10 770 430.7)" fill="#fff" stroke="#000"/>
<path d="M789 439.8 L818.5 458.5 L815.5 465.5 L786 446.8 Z" fill="#fff"/>
<ellipse cx="787.5" cy="443.3" rx="2.5" ry="3.8" transform="rotate(-30 787.5 443.3)" fill="#fff"/>
<ellipse cx="793" cy="446.5" rx="2.5" ry="4" transform="rotate(-30 793 446.5)"/>
<path d="M797 440.5 L804 443 L807 449 L803 453.5 L796 451 Z" fill="#fff"/>
<path d="M800 442 L803 451"/>
<ellipse cx="807" cy="451" rx="1.6" ry="4.2" transform="rotate(-32 807 451)"/>
<ellipse cx="808.9" cy="452.2" rx="1.6" ry="4.2" transform="rotate(-32 808.9 452.2)"/>
<ellipse cx="810.8" cy="453.5" rx="1.6" ry="4.2" transform="rotate(-32 810.8 453.5)"/>
<ellipse cx="812.7" cy="454.8" rx="1.6" ry="4.2" transform="rotate(-32 812.7 454.8)"/>
<ellipse cx="814.6" cy="456" rx="1.6" ry="4.2" transform="rotate(-32 814.6 456)"/>
<ellipse cx="816.5" cy="457.2" rx="1.6" ry="4.2" transform="rotate(-32 816.5 457.2)"/>
<ellipse cx="818.4" cy="458.5" rx="1.6" ry="4.2" transform="rotate(-32 818.4 458.5)"/>
<ellipse cx="818" cy="462" rx="2.3" ry="3.4" transform="rotate(-30 818 462)"/>
<text transform="translate(774.4 509.3) scale(1 1.13)" font-size="17" fill="currentColor" stroke="currentColor" stroke-width="0.25" shape-rendering="auto">30</text>
<path d="M803 505.7 L818.7 515.7 L822.3 509.9 L806.6 499.9 Z" fill="#fff"/>
<ellipse cx="820.5" cy="512.8" rx="1.9" ry="3.4" transform="rotate(32.5 820.5 512.8)" fill="#fff"/>
<path d="M815.9 513.9 A1.9 3.4 32.5 0 0 819.5 508.2" transform=""/>
<path d="M813.1 512.1 A1.9 3.4 32.5 0 0 816.8 506.4" transform=""/>
<path d="M810.3 510.3 A1.9 3.4 32.5 0 0 814 504.6" transform=""/>
<path d="M798.9 508.5 L797.2 500.3 L803.1 494.6 L810.7 497.1 L812.4 505.3 L806.5 511 Z" fill="#fff"/>
<ellipse cx="806.7" cy="504" rx="3.6" ry="5.4" transform="rotate(32.5 806.7 504)"/>
<path d="M803.6 511 L803.6 536" stroke-width="1.2"/>
<circle cx="802.8" cy="555" r="19.9" fill="#fff"/>
<text transform="translate(797 561.8) scale(1 1.13)" font-size="17" fill="currentColor" stroke="currentColor" stroke-width="0.25" shape-rendering="auto">5</text>
<path d="M818.8 567 L835.9 580.7 L835.9 522.2"/>
<path d="M853.1 478.5 C850.9 478.7 843.3 478 839.8 479.8 C836.3 481.6 833.8 485.8 831.9 489.1 C830 492.4 829 496.2 828.6 499.7 C828.2 503.2 828.5 507.4 829.3 510.3 C830.1 513.2 831.9 514.9 833.2 516.9 C834.5 518.9 833.9 519.8 837.2 522.2 C840.5 524.6 850.5 529.9 853.1 531.4"/>
<path d="M839.8 481.5 C838.7 482.9 834.6 486.9 833 490 C831.4 493.1 830.6 496.7 830.2 500 C829.8 503.3 830.7 508.3 830.8 510"/>
<circle cx="836.8" cy="477.3" r="3.2" fill="#fff"/>
<path d="M869.6 469.9 C870.5 469.9 870.9 470.4 875 470.1 C879.1 469.8 889.4 468.4 894 468.2 C898.6 468 899.6 467.9 902.8 468.9 C906 469.9 908.8 470.6 913 474 C917.2 477.4 924.9 484.5 928.2 489.1 C931.5 493.7 931.8 497.4 932.6 501.8 C933.4 506.2 933.5 512.5 933.2 515.7 C932.9 518.9 931.8 519.8 930.7 520.8 C929.7 521.8 927.5 521.8 926.9 522" fill="#fff"/>
<path d="M869.6 469.9 L880.8 468.6 L889 469.8 L895.4 473 L879.5 479.8 L874.2 475.9 L869.6 474.6 Z"/>
<path d="M882.6 485.3 C885.5 484.5 895.7 480.7 900.3 480.3 C904.9 479.9 908.1 481.1 910.4 482.8 C912.7 484.5 914 488.3 914.2 490.4 C914.4 492.5 914 493.7 911.7 495.4 C909.4 497.1 904.1 499.6 900.3 500.5 C896.5 501.4 890.8 500.5 888.9 500.5"/>
<path d="M899 486.6 L901 498"/>
<path d="M910.4 508.1 C911.5 507.5 913.8 507.1 916.8 504.3 C919.8 501.6 926.3 493.7 928.2 491.6"/>
<path d="M893.4 517 C893.2 514.9 893.1 511.1 894 509.4 C894.9 507.7 896.5 507.3 899 506.8 C901.5 506.3 907.2 506 909.2 506.2 C911.2 506.4 910.2 505.8 911 508 C911.8 510.2 915.4 517.4 914.2 519.5 C913.1 521.6 907.2 520.4 904.1 520.8 C901 521.2 897.1 522.6 895.3 522 C893.5 521.4 893.6 519.1 893.4 517 Z" fill="#fff"/>
<ellipse cx="898.4" cy="516.3" rx="2.3" ry="3.2" transform="rotate(10 898.4 516.3)"/>
<path d="M900.3 522 L916.8 529.6"/>
<path d="M916.8 523.3 L919.3 539.7"/>
<path d="M914.2 522 L915.5 541"/>
<path d="M926.9 522 L926.3 538.5"/>
<path d="M928.2 530.9 C929.2 531.8 933.2 533 934.5 536 C935.8 539 936.2 545.2 935.8 548.6 C935.4 552 933.9 554.5 932 556.2 C930.1 557.9 927.8 557.9 924.4 558.7 C921 559.6 913.8 560.9 911.7 561.3"/>
<path d="M885.1 539.7 L900.3 542.3 L916.8 538.5 L926.3 538.5"/>
<path d="M900.3 528.4 L898.4 538.5"/>
<path d="M891.5 548.6 C892.8 547.6 895.3 546.3 897.8 546.1 C900.3 545.9 904.3 546.5 906.6 547.3 C908.9 548.1 910.9 548.8 911.7 551.1 C912.6 553.4 913.6 559.8 911.7 561.3 C909.8 562.8 903.5 560.6 900.3 560 C897.1 559.4 894.4 558.8 892.7 557.5 C891 556.2 890.4 553.9 890.2 552.4 C890 550.9 890.2 549.6 891.5 548.6 Z" fill="#fff"/>
<ellipse cx="898.4" cy="554.9" rx="2.3" ry="3.2" transform="rotate(10 898.4 554.9)"/>
<path d="M906 547.5 L906.5 560.5"/>
<path d="M853.7 479.2 C854.5 477.7 857.9 476.4 859.7 475.9 C861.5 475.4 866.9 474.3 868.9 474.6 C870.9 474.9 875.3 477.3 876.9 478.5 C878.5 479.7 881 482.6 882.2 484.5 C883.4 486.4 886 491.4 886.8 494.4 C887.6 497.4 888.7 507.1 888.8 510.3 C888.9 513.5 888.1 519.4 887.5 522.2 C886.9 525 884.3 532.1 883.5 534.1 C882.7 536.1 881 537.5 880.8 539.4 C880.6 541.3 882.7 548.3 882.2 550 C881.7 551.7 878.8 553.4 876.9 553.9 C875 554.4 868.3 554.2 866.3 553.9 C864.3 553.6 861.2 552.4 859.7 551.3 C858.2 550.2 854.4 546.3 853.7 544.7 C853 543.1 853.5 539.1 853.7 538 C853.9 536.9 856.1 536.8 855.7 535.4 C855.3 534 851.3 528.7 850.4 526.1 C849.5 523.5 848.5 515.8 848.4 512.9 C848.3 510 848.9 503 849.8 501 C850.7 499 855.3 497.1 855.7 495.7 C856.1 494.3 853.3 491 853.1 489.1 C852.9 487.2 852.9 480.7 853.7 479.2 Z" fill="#fff"/>
<path d="M862.3 495.7 C862.1 494.2 860.3 488.8 861 486.5 C861.7 484.2 864 482.7 866.3 481.8 C868.6 480.9 873.5 481.1 875 481"/>
<circle cx="868.9" cy="490.4" r="2.5"/>
<circle cx="868.9" cy="545.3" r="2.5"/>
<ellipse cx="872.9" cy="516.9" rx="17.2" ry="21.8" transform="rotate(10 872.9 516.9)"/>
<ellipse cx="873.5" cy="517.5" rx="15" ry="19.5" transform="rotate(10 873.5 517.5)"/>
<ellipse cx="872.9" cy="518.2" rx="10.6" ry="13.9" transform="rotate(10 872.9 518.2)"/>
<path d="M872.9 553.9 L885.7 584.5"/>
<ellipse cx="894.3" cy="600.9" rx="16.6" ry="18.8" fill="#fff"/>
<path d="M880.6 608.7 L889.2 599.7 L889.6 590.7 L893.1 586.4 L897.8 586.4 L900.5 588.4 L895.5 593.4 L896.3 597 L899.4 600.1 L901.7 600.1 L906 595.4 L906.4 602.8 L903.3 605.9 L896.3 606.3 L886.1 616.5"/>
<text transform="translate(916.2 608.9) scale(1 1.13)" font-size="17" fill="currentColor" stroke="currentColor" stroke-width="0.25" shape-rendering="auto">35</text>
<circle cx="650" cy="585.3" r="19.9" fill="#fff"/>
<text transform="translate(637 592) scale(1 1.13)" font-size="17" fill="currentColor" stroke="currentColor" stroke-width="0.25" shape-rendering="auto">150</text>
<path d="M630.5 590.3 L609.9 597.3 L609.9 666.4 L695.9 721.4"/>
<path d="M650.2 604.5 L650.2 625.5 L738.2 681.9"/>
<path d="M667.7 597.3 L676.1 600.1 L717 588.8"/>
<path d="M667 596 L707.2 622.1 L742.4 612.8"/>
<path d="M762.2 611.4 L777.3 610.5"/>
<circle cx="796" cy="606.6" r="19.8" fill="#fff"/>
<text transform="translate(782.3 613.8) scale(1 1.13)" font-size="17" fill="currentColor" stroke="currentColor" stroke-width="0.25" shape-rendering="auto">170</text>
<text transform="translate(720.8 578) scale(1 1.13)" font-size="17" fill="currentColor" stroke="currentColor" stroke-width="0.25" shape-rendering="auto">160</text>
<text transform="translate(676.6 750.6) scale(1 1.13)" font-size="17" fill="currentColor" stroke="currentColor" stroke-width="0.25" shape-rendering="auto">180</text>
<text transform="translate(842.1 746.4) scale(1 1.13)" font-size="17" fill="currentColor" stroke="currentColor" stroke-width="0.25" shape-rendering="auto">190</text>
<path d="M725.5 583.6 C723.9 582.6 711 574.2 709 573.3 C707 572.4 705.9 574 705.5 574.5 C705.1 575 704.9 577.9 705 578.5 C705.1 579.1 704.6 579.7 706.2 580.9 C707.8 582.1 719.2 589.5 720.7 590.5"/>
<ellipse cx="723" cy="586.8" rx="2.3" ry="4.3" transform="rotate(-30 723 586.8)" fill="#fff"/>
<ellipse cx="726" cy="589" rx="1.5" ry="2.7" transform="rotate(-30 726 589)"/>
<ellipse cx="728.3" cy="590.4" rx="1.5" ry="2.7" transform="rotate(-30 728.3 590.4)"/>
<ellipse cx="730.6" cy="591.8" rx="1.5" ry="2.7" transform="rotate(-30 730.6 591.8)"/>
<path d="M753.1 598.1 C751.9 597.5 742.4 592.7 740.7 592.3 C739 591.9 736.6 593.3 736 594 C735.4 594.7 734.4 598.4 734.5 599.5 C734.6 600.6 736.3 603.9 737 605 C737.7 606.1 740.4 609.7 741.4 610.5 C742.4 611.3 746.4 612.8 747 613" fill="#fff"/>
<path d="M742.9 611.9 L742.6 611.8 L742.4 611.7 L742.2 611.6 L742 611.5 L741.7 611.3 L741.6 611.2 L741.4 610.9 L741.2 610.7 L741.1 610.5 L740.9 610.2 L740.8 609.9 L740.7 609.6 L740.6 609.3 L740.5 608.9 L740.4 608.6 L740.4 608.2 L740.3 607.8 L740.3 607.4 L740.3 607 L740.3 606.5 L740.3 606.1 L740.4 605.6 L740.4 605.2 L740.5 604.7 L740.6 604.3 L740.7 603.8 L740.8 603.3 L741 602.9 L741.1 602.4 L741.3 602 L741.4 601.5 L741.6 601.1 L741.8 600.6 L742 600.2 L742.3 599.8 L742.5 599.4 L742.7 599 L743 598.6 L743.2 598.2 L743.5 597.8 L743.7 597.5 L744 597.2 L744.3 596.9 L744.6 596.6 L744.9 596.4 L745.1 596.1 L745.4 595.9 L745.7 595.7 L746 595.6 L746.3 595.4 L746.6 595.3 L746.9 595.2 L747.1 595.1 L747.4 595.1 L747.7 595.1 L747.9 595.1 L748.2 595.1 L748.4 595.2 L748.6 595.3 L748.9 595.4"/>
<path d="M746.9 613.9 L746.6 613.8 L746.4 613.7 L746.2 613.6 L746 613.5 L745.7 613.3 L745.6 613.2 L745.4 612.9 L745.2 612.7 L745.1 612.5 L744.9 612.2 L744.8 611.9 L744.7 611.6 L744.6 611.3 L744.5 610.9 L744.4 610.6 L744.4 610.2 L744.3 609.8 L744.3 609.4 L744.3 609 L744.3 608.5 L744.3 608.1 L744.4 607.6 L744.4 607.2 L744.5 606.7 L744.6 606.3 L744.7 605.8 L744.8 605.3 L745 604.9 L745.1 604.4 L745.3 604 L745.4 603.5 L745.6 603.1 L745.8 602.6 L746 602.2 L746.3 601.8 L746.5 601.4 L746.7 601 L747 600.6 L747.2 600.2 L747.5 599.8 L747.7 599.5 L748 599.2 L748.3 598.9 L748.6 598.6 L748.9 598.4 L749.1 598.1 L749.4 597.9 L749.7 597.7 L750 597.6 L750.3 597.4 L750.6 597.3 L750.9 597.2 L751.1 597.1 L751.4 597.1 L751.7 597.1 L751.9 597.1 L752.2 597.1 L752.4 597.2 L752.6 597.3 L752.9 597.4"/>
<ellipse cx="756.6" cy="609.9" rx="5.9" ry="8.5" transform="rotate(15 756.6 609.9)" fill="#fff"/>
<ellipse cx="756.4" cy="610.5" rx="2.5" ry="4" transform="rotate(15 756.4 610.5)"/>
<path d="M697.2 724.4 L712.7 734.4 L716.3 728.6 L700.8 718.6 Z" fill="#fff"/>
<ellipse cx="714.5" cy="731.5" rx="1.9" ry="3.4" transform="rotate(32.8 714.5 731.5)" fill="#fff"/>
<path d="M709.9 732.6 A1.9 3.4 32.8 0 0 713.6 726.9" transform=""/>
<path d="M707.1 730.8 A1.9 3.4 32.8 0 0 710.8 725.1" transform=""/>
<path d="M704.3 729 A1.9 3.4 32.8 0 0 708 723.3" transform=""/>
<path d="M693.1 727.1 L691.4 718.9 L697.3 713.3 L704.9 715.9 L706.6 724.1 L700.7 729.7 Z" fill="#fff"/>
<ellipse cx="700.8" cy="722.7" rx="3.6" ry="5.4" transform="rotate(32.8 700.8 722.7)"/>
<path d="M728.9 699.8 C729.2 698.9 729.6 695.3 730.9 693 C732.2 690.7 735.6 687 738.7 682.2 C741.8 677.4 751.5 660.5 754.4 656.7 C757.3 652.9 757.6 654.6 760.2 653.8 C762.8 653 771.2 651.2 773.9 650.9 C776.6 650.6 778.2 650.6 780.8 651.8 C783.4 653 790.6 657.3 793.5 659.7 C796.4 662.1 800.3 667 802.3 669.5 C804.3 672 807.8 677.1 808.7 678.3" fill="#fff"/>
<path d="M808.7 678.3 L808.7 681.2 L787.6 688.1 L786.6 684.1"/>
<path d="M787.6 684.1 L808.7 678.3"/>
<path d="M736.7 695.9 C740.5 689.9 754.8 666.2 759.2 659.7 C763.6 653.2 762.5 657.6 763.2 657.2"/>
<path d="M762.2 660.2 C763.8 661.2 768.9 664.1 772 666.5 C775.1 668.9 778.2 671.5 780.8 674.4 C783.4 677.3 786.5 682.5 787.6 684.1"/>
<path d="M777.8 665.5 L789.6 661.6"/>
<path d="M786.6 676.3 L800.8 671.4"/>
<path d="M787.6 688.1 L787.6 690"/>
<path d="M754.4 676.3 C755 675.9 756.7 674.5 758 674.2 C759.3 673.9 759.4 673.1 762.2 674.4 C765 675.7 770.8 679.4 775 682 C779.2 684.6 785.5 688.7 787.6 690"/>
<path d="M787.6 690 L795.4 695.9 L802.3 693 L804.3 694.9 L804.3 707.6 L795.4 712.5 L773.9 699.8 L762.2 692"/>
<path d="M797.4 686.1 L802.3 693"/>
<path d="M795.4 698.3 L795.4 710"/>
<path d="M773.9 699.8 C772.3 700.8 766.9 703.1 764.1 705.7 C761.3 708.3 758.8 711.5 757.3 715.5 C755.8 719.5 755.3 726.2 755.3 730 C755.2 733.8 755.5 735.7 757 738 C758.5 740.3 761 742.5 764 744 C767 745.5 772.9 746.3 774.7 746.8"/>
<path d="M739.7 715.5 L739.7 737"/>
<path d="M746 717.4 L746 736"/>
<path d="M751.4 711.5 C750.3 712 747.2 714.3 744.6 714.5 C742 714.7 738.2 713.6 735.8 712.5 C733.3 711.4 731 709.7 729.9 707.6 C728.8 705.5 729.1 701.1 728.9 699.8"/>
<path d="M753.4 689 L761.2 688.1 L762.2 690 L757.3 713.5 L752.4 713.5 Z" fill="#fff"/>
<path d="M756 689 L754 713"/>
<ellipse cx="744.1" cy="703.7" rx="8.3" ry="10.3" transform="rotate(10 744.1 703.7)" fill="#fff"/>
<ellipse cx="744.6" cy="703.7" rx="3.5" ry="4.5" transform="rotate(10 744.6 703.7)"/>
<path d="M739.7 737 C738.6 737.5 734.8 738.4 733 740 C731.2 741.6 729.3 744.3 728.7 746.8 C728.1 749.3 728.5 752.8 729.5 755 C730.5 757.2 732.6 758.8 735 760 C737.4 761.2 742.5 761.7 744 762"/>
<path d="M753.4 738 L761.2 737 L762.2 739 L757.3 762 L752.4 762 Z" fill="#fff"/>
<path d="M756 738 L754 762"/>
<ellipse cx="744.3" cy="750.4" rx="8.3" ry="10.3" transform="rotate(10 744.3 750.4)" fill="#fff"/>
<ellipse cx="744.8" cy="750.4" rx="3.5" ry="4.5" transform="rotate(10 744.8 750.4)"/>
<path d="M761.8 746.8 L798.6 768.8 L804.1 776.2 L804.1 790.9 L795 794.6 L765.5 776.2 L741.6 759.6"/>
<path d="M755.4 767 L796 778"/>
<path d="M796 773 L796 793.5"/>
<ellipse cx="801.5" cy="783" rx="2.2" ry="5"/>
<circle cx="772" cy="749.5" r="3"/>
<path d="M822.7 689.5 C822.7 688.4 822.2 684.1 822.7 682.7 C823.2 681.3 824.8 680.8 825.7 681.2 C826.6 681.6 827.9 682.9 828 685 C828.1 687.1 827.1 689.8 826.5 694 C825.9 698.2 824 706.9 824.2 710.4 C824.5 713.9 827.1 713 828 715 C828.9 717 829.2 721.2 829.5 722.4"/>
<path d="M822.7 689.5 C822.5 693.2 821.3 705.8 821.2 712 C821.1 718.2 822.1 720 822 727 C821.9 734 820.8 744.4 820.5 753.9 C820.2 763.4 820.5 778.9 820.5 783.9"/>
<path d="M820.5 783.9 L822.7 788.4 L824.2 783.9 L824.2 759.9"/>
<path d="M829.5 712 L832.5 710.4 L837 715 L836.2 758.4 L832.5 760.6 L827.2 759.9 L827.2 722.4"/>
<path d="M825.7 733.7 L831 733.7 L831 743.4 L825.7 743.4 Z"/>
<path d="M819 755.4 L824 758 L827 761"/>
<path d="M818.5 780 L824 783"/>
<path d="M173.4 614.1 C170.4 615.3 160.9 617.2 155.2 621.1 C149.5 625 143.6 630.5 139.1 637.2 C134.6 643.9 130.4 653.2 128.1 661.3 C125.8 669.3 125.3 678.1 125.1 685.5 C124.9 692.9 125.8 700.6 127.1 705.6 C128.4 710.6 130.1 712.5 133.1 715.7 C136.1 718.9 142.8 722.5 145.2 724.7 C147.5 726.9 146.9 728.1 147.2 728.8"/>
<path d="M173.4 614.1 L181.4 616.1 L191.5 619.1 L198.5 622.1 L196.5 628.1"/>
<path d="M196.5 628.1 C193 629 181.6 630.7 175.4 633.2 C169.2 635.7 163.8 639.2 159.3 643.2 C154.8 647.2 151 651.6 148.2 657.3 C145.3 663 143.2 671 142.2 677.4 C141.2 683.8 141.7 690.2 142.2 695.6 C142.7 701 143.9 705.6 145.2 709.6 C146.5 713.6 149.4 718 150.2 719.7"/>
<path d="M150.2 719.7 L147.2 725.7 L147.2 728.8"/>
<path d="M183.4 617.1 C180.1 618.6 169.7 621.8 163.3 626.1 C156.9 630.5 150.1 636.7 145.2 643.2 C140.3 649.8 136.3 657.7 134.1 665.4 C131.9 673.1 131.9 682.5 132.1 689.5 C132.3 696.5 133.8 703.2 135.1 707.6 C136.4 712 139.2 714.6 140 716"/>
<path d="M185.4 621.1 C182.1 622.4 171.5 624.7 165.3 629.1 C159.1 633.5 152.9 640.9 148.2 647.3 C143.5 653.7 139.3 660.4 137.1 667.4 C134.9 674.4 134.9 682.5 135.1 689.5 C135.3 696.5 136.9 705 138.1 709.6 C139.2 714.2 141.3 715.8 142 717"/>
<path d="M144 653 L147 657 L145 661"/>
<path d="M175 619 L179 623"/>
<path d="M246.8 657.3 C247.6 657.5 249.6 656.3 251.8 658.3 C254 660.3 257.4 667.2 259.9 669.4 C262.4 671.6 265.3 669.4 267 671.4 C268.7 673.4 269.3 675.8 270 681.5 C270.7 687.2 271.3 698.2 271 705.6 C270.7 713 269.9 719.3 268 725.7 C266.1 732.1 263.9 738.2 259.9 743.9 C255.9 749.6 249.2 755.6 243.8 760 C238.4 764.4 231.7 768.2 227.7 770 C223.7 771.8 222.6 771.3 219.6 771 C216.6 770.7 213.1 769.5 209.6 768 C206.1 766.5 200.3 763 198.5 762"/>
<path d="M198.5 762 L203.5 753.9"/>
<path d="M203.5 753.9 C207.2 753.2 219.6 752.6 225.7 749.9 C231.8 747.2 236 743.5 239.8 737.8 C243.7 732.1 247 723.8 248.8 715.7 C250.6 707.7 250.8 697.2 250.8 689.5 C250.8 681.8 249.5 674.8 248.8 669.4 C248.1 664 247.1 659.3 246.8 657.3"/>
<path d="M255.9 665.4 C257.2 668.8 262.6 678.1 263.9 685.5 C265.2 692.9 264.9 702.2 263.9 709.6 C262.9 717 260.9 723.4 257.9 729.8 C254.9 736.2 250.8 742.5 245.8 747.9 C240.8 753.3 232.1 759.1 227.7 762 C223.3 764.9 220.9 764.5 219.6 765"/>
<path d="M262.9 673.4 C263.6 676.1 266.5 682.1 267 689.5 C267.5 696.9 267.7 709.7 266 717.7 C264.3 725.8 261.3 731.4 256.9 737.8 C252.5 744.2 245.1 751.2 239.8 755.9 C234.5 760.6 227.5 764.3 225 766"/>
<path d="M252 676 L256 680"/>
<path d="M250 730 L253 726"/>
<path d="M212 765 L218 768"/>
<g transform="translate(181.5 12.5)">
<path d="M173.4 614.1 C170.4 615.3 160.9 617.2 155.2 621.1 C149.5 625 143.6 630.5 139.1 637.2 C134.6 643.9 130.4 653.2 128.1 661.3 C125.8 669.3 125.3 678.1 125.1 685.5 C124.9 692.9 125.8 700.6 127.1 705.6 C128.4 710.6 130.1 712.5 133.1 715.7 C136.1 718.9 142.8 722.5 145.2 724.7 C147.5 726.9 146.9 728.1 147.2 728.8"/>
<path d="M173.4 614.1 L181.4 616.1 L191.5 619.1 L198.5 622.1 L196.5 628.1"/>
<path d="M196.5 628.1 C193 629 181.6 630.7 175.4 633.2 C169.2 635.7 163.8 639.2 159.3 643.2 C154.8 647.2 151 651.6 148.2 657.3 C145.3 663 143.2 671 142.2 677.4 C141.2 683.8 141.7 690.2 142.2 695.6 C142.7 701 143.9 705.6 145.2 709.6 C146.5 713.6 149.4 718 150.2 719.7"/>
<path d="M150.2 719.7 L147.2 725.7 L147.2 728.8"/>
<path d="M183.4 617.1 C180.1 618.6 169.7 621.8 163.3 626.1 C156.9 630.5 150.1 636.7 145.2 643.2 C140.3 649.8 136.3 657.7 134.1 665.4 C131.9 673.1 131.9 682.5 132.1 689.5 C132.3 696.5 133.8 703.2 135.1 707.6 C136.4 712 139.2 714.6 140 716"/>
<path d="M185.4 621.1 C182.1 622.4 171.5 624.7 165.3 629.1 C159.1 633.5 152.9 640.9 148.2 647.3 C143.5 653.7 139.3 660.4 137.1 667.4 C134.9 674.4 134.9 682.5 135.1 689.5 C135.3 696.5 136.9 705 138.1 709.6 C139.2 714.2 141.3 715.8 142 717"/>
<path d="M144 653 L147 657 L145 661"/>
<path d="M175 619 L179 623"/>
<path d="M246.8 657.3 C247.6 657.5 249.6 656.3 251.8 658.3 C254 660.3 257.4 667.2 259.9 669.4 C262.4 671.6 265.3 669.4 267 671.4 C268.7 673.4 269.3 675.8 270 681.5 C270.7 687.2 271.3 698.2 271 705.6 C270.7 713 269.9 719.3 268 725.7 C266.1 732.1 263.9 738.2 259.9 743.9 C255.9 749.6 249.2 755.6 243.8 760 C238.4 764.4 231.7 768.2 227.7 770 C223.7 771.8 222.6 771.3 219.6 771 C216.6 770.7 213.1 769.5 209.6 768 C206.1 766.5 200.3 763 198.5 762"/>
<path d="M198.5 762 L203.5 753.9"/>
<path d="M203.5 753.9 C207.2 753.2 219.6 752.6 225.7 749.9 C231.8 747.2 236 743.5 239.8 737.8 C243.7 732.1 247 723.8 248.8 715.7 C250.6 707.7 250.8 697.2 250.8 689.5 C250.8 681.8 249.5 674.8 248.8 669.4 C248.1 664 247.1 659.3 246.8 657.3"/>
<path d="M255.9 665.4 C257.2 668.8 262.6 678.1 263.9 685.5 C265.2 692.9 264.9 702.2 263.9 709.6 C262.9 717 260.9 723.4 257.9 729.8 C254.9 736.2 250.8 742.5 245.8 747.9 C240.8 753.3 232.1 759.1 227.7 762 C223.3 764.9 220.9 764.5 219.6 765"/>
<path d="M262.9 673.4 C263.6 676.1 266.5 682.1 267 689.5 C267.5 696.9 267.7 709.7 266 717.7 C264.3 725.8 261.3 731.4 256.9 737.8 C252.5 744.2 245.1 751.2 239.8 755.9 C234.5 760.6 227.5 764.3 225 766"/>
<path d="M252 676 L256 680"/>
<path d="M250 730 L253 726"/>
<path d="M212 765 L218 768"/>
</g>
<g transform="translate(110.1 631.9) rotate(28.4)"><ellipse cx="0" cy="0" rx="2.7" ry="3.2" transform="skewX(-25)"/></g>
<g transform="translate(113.8 634) rotate(28.4)"><ellipse cx="0" cy="0" rx="2.7" ry="3.2" transform="skewX(-25)"/></g>
<g transform="translate(117.6 636) rotate(28.4)"><ellipse cx="0" cy="0" rx="2.7" ry="3.2" transform="skewX(-25)"/></g>
<path d="M119.5 637 L127.7 644.2 L126 646"/>
<g transform="translate(204.6 645.4) rotate(28.7)"><ellipse cx="0" cy="0" rx="2.2" ry="2.5" transform="skewX(-25)"/></g>
<g transform="translate(207.7 647) rotate(28.7)"><ellipse cx="0" cy="0" rx="2.2" ry="2.5" transform="skewX(-25)"/></g>
<g transform="translate(210.8 648.8) rotate(28.7)"><ellipse cx="0" cy="0" rx="2.2" ry="2.5" transform="skewX(-25)"/></g>
<g transform="translate(213.8 650.5) rotate(28.7)"><ellipse cx="0" cy="0" rx="2.2" ry="2.5" transform="skewX(-25)"/></g>
<g transform="translate(216.9 652.1) rotate(28.7)"><ellipse cx="0" cy="0" rx="2.2" ry="2.5" transform="skewX(-25)"/></g>
<g transform="translate(220.1 653.9) rotate(28.7)"><ellipse cx="0" cy="0" rx="2.2" ry="2.5" transform="skewX(-25)"/></g>
<g transform="translate(223.2 655.5) rotate(28.7)"><ellipse cx="0" cy="0" rx="2.2" ry="2.5" transform="skewX(-25)"/></g>
<g transform="translate(226.2 657.2) rotate(28.7)"><ellipse cx="0" cy="0" rx="2.2" ry="2.5" transform="skewX(-25)"/></g>
<g transform="translate(229.3 659) rotate(28.7)"><ellipse cx="0" cy="0" rx="2.2" ry="2.5" transform="skewX(-25)"/></g>
<g transform="translate(232.4 660.6) rotate(28.7)"><ellipse cx="0" cy="0" rx="2.2" ry="2.5" transform="skewX(-25)"/></g>
<g transform="translate(201.1 643.5) rotate(28.7)"><path d="M0 -2.2 A2.1 2.2 0 0 1 0 2.2"/></g>
<g transform="translate(235.9 662.5) rotate(28.7)"><path d="M0 2.2 A2.1 2.2 0 0 1 0 -2.2"/></g>
<g transform="translate(221.3 705.1) rotate(42)"><ellipse cx="0" cy="0" rx="2.8" ry="3.2" transform="skewX(-25)"/></g>
<g transform="translate(224.6 708.2) rotate(42)"><ellipse cx="0" cy="0" rx="2.8" ry="3.2" transform="skewX(-25)"/></g>
<g transform="translate(228 711.2) rotate(42)"><ellipse cx="0" cy="0" rx="2.8" ry="3.2" transform="skewX(-25)"/></g>
<path d="M229.7 712.7 L243.8 722.7"/>
<g transform="translate(157.5 713.5) rotate(43.6)"><ellipse cx="0" cy="0" rx="2.6" ry="3.6" transform="skewX(-25)"/></g>
<g transform="translate(160.6 716.4) rotate(43.6)"><ellipse cx="0" cy="0" rx="2.6" ry="3.6" transform="skewX(-25)"/></g>
<g transform="translate(163.7 719.3) rotate(43.6)"><ellipse cx="0" cy="0" rx="2.6" ry="3.6" transform="skewX(-25)"/></g>
<g transform="translate(166.8 722.2) rotate(43.6)"><ellipse cx="0" cy="0" rx="2.6" ry="3.6" transform="skewX(-25)"/></g>
<g transform="translate(153.8 709.9) rotate(43.6)"><path d="M0 -3.2 A3.1 3.2 0 0 1 0 3.2"/></g>
<path d="M168.3 723.7 L193.5 737.8"/>
<g transform="translate(194.2 738.1) rotate(33.7)"><ellipse cx="0" cy="0" rx="2.5" ry="3.6" transform="skewX(-25)"/></g>
<g transform="translate(197.6 740.4) rotate(33.7)"><ellipse cx="0" cy="0" rx="2.5" ry="3.6" transform="skewX(-25)"/></g>
<g transform="translate(200.9 742.6) rotate(33.7)"><ellipse cx="0" cy="0" rx="2.5" ry="3.6" transform="skewX(-25)"/></g>
<g transform="translate(204.3 744.9) rotate(33.7)"><ellipse cx="0" cy="0" rx="2.5" ry="3.6" transform="skewX(-25)"/></g>
<g transform="translate(208.5 747.7) rotate(33.7)"><path d="M0 3.2 A3.1 3.2 0 0 1 0 -3.2"/></g>
<g transform="translate(344.7 678.1) rotate(40.9)"><ellipse cx="0" cy="0" rx="2.5" ry="3.2" transform="skewX(-25)"/></g>
<g transform="translate(347.7 680.7) rotate(40.9)"><ellipse cx="0" cy="0" rx="2.5" ry="3.2" transform="skewX(-25)"/></g>
<g transform="translate(350.7 683.3) rotate(40.9)"><ellipse cx="0" cy="0" rx="2.5" ry="3.2" transform="skewX(-25)"/></g>
<path d="M337.6 672.3 L343.2 676.8"/>
<g transform="translate(389.9 655.4) rotate(30.8)"><ellipse cx="0" cy="0" rx="2.1" ry="2.5" transform="skewX(-25)"/></g>
<g transform="translate(392.8 657) rotate(30.8)"><ellipse cx="0" cy="0" rx="2.1" ry="2.5" transform="skewX(-25)"/></g>
<g transform="translate(395.6 658.8) rotate(30.8)"><ellipse cx="0" cy="0" rx="2.1" ry="2.5" transform="skewX(-25)"/></g>
<g transform="translate(398.5 660.5) rotate(30.8)"><ellipse cx="0" cy="0" rx="2.1" ry="2.5" transform="skewX(-25)"/></g>
<g transform="translate(401.3 662.1) rotate(30.8)"><ellipse cx="0" cy="0" rx="2.1" ry="2.5" transform="skewX(-25)"/></g>
<g transform="translate(404.2 663.9) rotate(30.8)"><ellipse cx="0" cy="0" rx="2.1" ry="2.5" transform="skewX(-25)"/></g>
<g transform="translate(407 665.5) rotate(30.8)"><ellipse cx="0" cy="0" rx="2.1" ry="2.5" transform="skewX(-25)"/></g>
<g transform="translate(409.9 667.2) rotate(30.8)"><ellipse cx="0" cy="0" rx="2.1" ry="2.5" transform="skewX(-25)"/></g>
<g transform="translate(412.7 669) rotate(30.8)"><ellipse cx="0" cy="0" rx="2.1" ry="2.5" transform="skewX(-25)"/></g>
<g transform="translate(415.6 670.6) rotate(30.8)"><ellipse cx="0" cy="0" rx="2.1" ry="2.5" transform="skewX(-25)"/></g>
<g transform="translate(386.7 653.4) rotate(30.8)"><path d="M0 -2.2 A2.1 2.2 0 0 1 0 2.2"/></g>
<g transform="translate(418.8 672.6) rotate(30.8)"><path d="M0 2.2 A2.1 2.2 0 0 1 0 -2.2"/></g>
<g transform="translate(339.2 728.7) rotate(43.5)"><ellipse cx="0" cy="0" rx="2.1" ry="3.6" transform="skewX(-25)"/></g>
<g transform="translate(341.8 731.1) rotate(43.5)"><ellipse cx="0" cy="0" rx="2.1" ry="3.6" transform="skewX(-25)"/></g>
<g transform="translate(344.2 733.4) rotate(43.5)"><ellipse cx="0" cy="0" rx="2.1" ry="3.6" transform="skewX(-25)"/></g>
<g transform="translate(346.8 735.8) rotate(43.5)"><ellipse cx="0" cy="0" rx="2.1" ry="3.6" transform="skewX(-25)"/></g>
<g transform="translate(335.8 725.4) rotate(43.5)"><path d="M0 -3.2 A3.1 3.2 0 0 1 0 3.2"/></g>
<path d="M347.7 737.3 L371.3 750.8"/>
<g transform="translate(375.1 754.1) rotate(34.2)"><ellipse cx="0" cy="0" rx="2.3" ry="3.6" transform="skewX(-25)"/></g>
<g transform="translate(378.2 756.2) rotate(34.2)"><ellipse cx="0" cy="0" rx="2.3" ry="3.6" transform="skewX(-25)"/></g>
<g transform="translate(381.3 758.3) rotate(34.2)"><ellipse cx="0" cy="0" rx="2.3" ry="3.6" transform="skewX(-25)"/></g>
<g transform="translate(384.4 760.4) rotate(34.2)"><ellipse cx="0" cy="0" rx="2.3" ry="3.6" transform="skewX(-25)"/></g>
<g transform="translate(388.5 763.2) rotate(34.2)"><path d="M0 3.2 A3.1 3.2 0 0 1 0 -3.2"/></g>
<g transform="translate(454.1 758.8) rotate(32.5)"><ellipse cx="0" cy="0" rx="3" ry="3.2" transform="skewX(-25)"/></g>
<g transform="translate(458.2 761.5) rotate(32.5)"><ellipse cx="0" cy="0" rx="3" ry="3.2" transform="skewX(-25)"/></g>
<g transform="translate(462.3 764.1) rotate(32.5)"><ellipse cx="0" cy="0" rx="3" ry="3.2" transform="skewX(-25)"/></g>
<path d="M447.5 750.8 L452 757.5"/>
<path d="M206.9 623 C207.5 621.5 209.2 617.9 211 617.2 C212.9 616.5 216 617.7 218 618.9 C220.1 620.1 222.1 622.5 223.3 624.2 C224.5 625.9 225.2 627.2 225 628.9 C224.8 630.5 223.4 633.3 222.1 634.1 C220.8 634.9 219.1 634.2 217.4 633.6 C215.7 633 213.8 631.9 212.1 630.6 C210.5 629.3 208.4 627.2 207.5 625.9 C206.6 624.6 206.3 624.5 206.9 623 Z" fill="#fff"/>
<ellipse cx="211" cy="622.3" rx="3.6" ry="4.6" transform="rotate(-20 211 622.3)"/>
<ellipse cx="220.5" cy="628.8" rx="4" ry="5.2" transform="rotate(-20 220.5 628.8)"/>
<path d="M214.5 618.3 L216 625.3 L213.5 631.3"/>
<path d="M217.5 619.8 L219 627.3 L216.5 633.3"/>
<path d="M214.5 625.3 L219.5 623.3"/>
<path d="M214 629.3 L218.5 631.3"/>
<path d="M236.3 634.2 L238.7 634.3 L245.7 640.2 L246.3 646 L241 650.2 L235.3 646.9" fill="#fff"/>
<ellipse cx="235.7" cy="640.2" rx="3.8" ry="6" transform="rotate(20 235.7 640.2)" fill="#fff"/>
<path d="M236.8 636.9 C236.5 637.6 235.1 639.7 234.8 640.9 C234.6 642.1 235.2 643.4 235.3 643.9"/>
<path d="M409.4 622.4 C410 621 411.6 617.3 413.5 616.6 C415.4 615.9 418.4 617.1 420.5 618.3 C422.6 619.5 424.6 621.9 425.8 623.6 C427 625.3 427.7 626.7 427.5 628.3 C427.3 630 425.9 632.7 424.6 633.5 C423.3 634.3 421.6 633.6 419.9 633 C418.2 632.4 416.2 631.3 414.6 630 C413 628.7 410.9 626.6 410 625.3 C409.1 624 408.8 623.9 409.4 622.4 Z" fill="#fff"/>
<ellipse cx="413.5" cy="621.7" rx="3.6" ry="4.6" transform="rotate(-20 413.5 621.7)"/>
<ellipse cx="423" cy="628.2" rx="4" ry="5.2" transform="rotate(-20 423 628.2)"/>
<path d="M417 617.7 L418.5 624.7 L416 630.7"/>
<path d="M420 619.2 L421.5 626.7 L419 632.7"/>
<path d="M417 624.7 L422 622.7"/>
<path d="M416.5 628.7 L421 630.7"/>
<path d="M441 633.3 L443.4 633.4 L450.4 639.3 L451 645.1 L445.7 649.3 L440 646" fill="#fff"/>
<ellipse cx="440.4" cy="639.3" rx="3.8" ry="6" transform="rotate(20 440.4 639.3)" fill="#fff"/>
<path d="M441.5 636 C441.2 636.7 439.8 638.8 439.5 640 C439.2 641.2 439.9 642.5 440 643"/>
<text transform="translate(199 611.6) scale(1 1.13)" font-size="17" fill="currentColor" stroke="currentColor" stroke-width="0.25" shape-rendering="auto">95</text>
<text transform="translate(224.4 631.8) scale(1 1.13)" font-size="17" fill="currentColor" stroke="currentColor" stroke-width="0.25" shape-rendering="auto">100</text>
<text transform="translate(403.3 610.8) scale(1 1.13)" font-size="17" fill="currentColor" stroke="currentColor" stroke-width="0.25" shape-rendering="auto">95</text>
<text transform="translate(439.8 629) scale(1 1.13)" font-size="17" fill="currentColor" stroke="currentColor" stroke-width="0.25" shape-rendering="auto">100</text>
<text transform="translate(101.4 623.5) scale(1 1.13)" font-size="17" fill="currentColor" stroke="currentColor" stroke-width="0.25" shape-rendering="auto">80</text>
<text transform="translate(187.1 670.5) scale(1 1.13)" font-size="17" fill="currentColor" stroke="currentColor" stroke-width="0.25" shape-rendering="auto">90</text>
<text transform="translate(207.3 699.2) scale(1 1.13)" font-size="17" fill="currentColor" stroke="currentColor" stroke-width="0.25" shape-rendering="auto">80</text>
<text transform="translate(159.5 751.7) scale(1 1.13)" font-size="17" fill="currentColor" stroke="currentColor" stroke-width="0.25" shape-rendering="auto">85</text>
<text transform="translate(104.2 771) scale(1 1.13)" font-size="17" fill="currentColor" stroke="currentColor" stroke-width="0.25" shape-rendering="auto">70</text>
<text transform="translate(274.1 773.8) scale(1 1.13)" font-size="17" fill="currentColor" stroke="currentColor" stroke-width="0.25" shape-rendering="auto">70</text>
<text transform="translate(270 616.3) scale(1 1.13)" font-size="17" fill="currentColor" stroke="currentColor" stroke-width="0.25" shape-rendering="auto">30</text>
<text transform="translate(271.4 665.5) scale(1 1.13)" font-size="17" fill="currentColor" stroke="currentColor" stroke-width="0.25" shape-rendering="auto">30</text>
<text transform="translate(355.8 697.3) scale(1 1.13)" font-size="17" fill="currentColor" stroke="currentColor" stroke-width="0.25" shape-rendering="auto">80</text>
<text transform="translate(395 694.5) scale(1 1.13)" font-size="17" fill="currentColor" stroke="currentColor" stroke-width="0.25" shape-rendering="auto">90</text>
<text transform="translate(340.3 766.3) scale(1 1.13)" font-size="17" fill="currentColor" stroke="currentColor" stroke-width="0.25" shape-rendering="auto">85</text>
<text transform="translate(450.3 782.4) scale(1 1.13)" font-size="17" fill="currentColor" stroke="currentColor" stroke-width="0.25" shape-rendering="auto">80</text>
<path d="M302.8 629 L286.8 619.1 L283.2 624.9 L299.2 634.8 Z" fill="#fff"/>
<ellipse cx="285" cy="622" rx="1.9" ry="3.4" transform="rotate(-148.3 285 622)" fill="#fff"/>
<path d="M289.6 620.8 A1.9 3.4 -148.3 0 0 286 626.6" transform=""/>
<path d="M292.4 622.6 A1.9 3.4 -148.3 0 0 288.8 628.4" transform=""/>
<path d="M295.2 624.3 A1.9 3.4 -148.3 0 0 291.6 630.1" transform=""/>
<path d="M306.8 626.1 L308.7 634.3 L302.8 640.1 L295.2 637.7 L293.3 629.5 L299.2 623.7 Z" fill="#fff"/>
<ellipse cx="299.1" cy="630.7" rx="3.6" ry="5.4" transform="rotate(-148.3 299.1 630.7)"/>
<path d="M263.3 636.8 L279.8 647 L283.2 641.4 L266.7 631.2 Z" fill="#fff"/>
<ellipse cx="281.5" cy="644.2" rx="1.8" ry="3.3" transform="rotate(31.7 281.5 644.2)" fill="#fff"/>
<path d="M277 645.3 A1.8 3.3 31.7 0 0 280.4 639.7" transform=""/>
<path d="M274.2 643.5 A1.8 3.3 31.7 0 0 277.6 637.9" transform=""/>
<path d="M271.3 641.8 A1.8 3.3 31.7 0 0 274.8 636.2" transform=""/>
<path d="M259.5 639.4 L257.8 631.7 L263.3 626.3 L270.5 628.6 L272.2 636.3 L266.7 641.7 Z" fill="#fff"/>
<ellipse cx="266.9" cy="635.2" rx="3.4" ry="5.1" transform="rotate(31.7 266.9 635.2)"/>
<ellipse cx="113.5" cy="738.8" rx="8.5" ry="11.2" transform="rotate(-10 113.5 738.8)" fill="#fff"/>
<ellipse cx="115.5" cy="740.5" rx="6" ry="9.5" transform="rotate(-12 115.5 740.5)" fill="#fff"/>
<ellipse cx="118.6" cy="742" rx="5" ry="8.2" transform="rotate(-12 118.6 742)" fill="#fff"/>
<ellipse cx="121.3" cy="743.5" rx="4" ry="7" transform="rotate(-12 121.3 743.5)" fill="#fff"/>
<ellipse cx="124.5" cy="745.5" rx="2.8" ry="5.4" transform="rotate(-28 124.5 745.5)" fill="#fff"/>
<ellipse cx="126.8" cy="747" rx="2.8" ry="5.2" transform="rotate(-28 126.8 747)" fill="#fff"/>
<ellipse cx="129.1" cy="748.5" rx="2.8" ry="5" transform="rotate(-28 129.1 748.5)" fill="#fff"/>
<ellipse cx="131.4" cy="750" rx="2.8" ry="4.8" transform="rotate(-28 131.4 750)" fill="#fff"/>
<ellipse cx="133.7" cy="751.5" rx="2.8" ry="4.6" transform="rotate(-28 133.7 751.5)" fill="#fff"/>
<ellipse cx="271" cy="737" rx="2.4" ry="4.2" transform="rotate(-25 271 737)" fill="#fff"/>
<ellipse cx="273.3" cy="738.6" rx="2.4" ry="4.4" transform="rotate(-25 273.3 738.6)" fill="#fff"/>
<ellipse cx="275.6" cy="740.2" rx="2.4" ry="4.5" transform="rotate(-25 275.6 740.2)" fill="#fff"/>
<ellipse cx="277.9" cy="741.8" rx="2.4" ry="4.7" transform="rotate(-25 277.9 741.8)" fill="#fff"/>
<ellipse cx="280.2" cy="743.4" rx="2.4" ry="4.8" transform="rotate(-25 280.2 743.4)" fill="#fff"/>
<ellipse cx="282" cy="744" rx="3.5" ry="7.5" transform="rotate(-15 282 744)" fill="#fff"/>
<ellipse cx="285.5" cy="746" rx="5" ry="9.5" transform="rotate(-10 285.5 746)" fill="#fff"/>
<ellipse cx="289.2" cy="748.4" rx="6" ry="10.7" transform="rotate(15 289.2 748.4)" fill="#fff"/>
<ellipse cx="288.4" cy="749.2" rx="3" ry="4.5" transform="rotate(15 288.4 749.2)"/>
</g></defs>
<g class="k" fill="none" stroke="#000" stroke-width="1" stroke-linejoin="round" stroke-linecap="round" shape-rendering="crispEdges"><use href="#art"/></g>
<g class="r" style="mix-blend-mode:multiply" fill="none" stroke="#ee2a5c" stroke-width="1.6" stroke-linejoin="round" stroke-linecap="round"><use href="#art"/></g>
</svg>
</body></html>
